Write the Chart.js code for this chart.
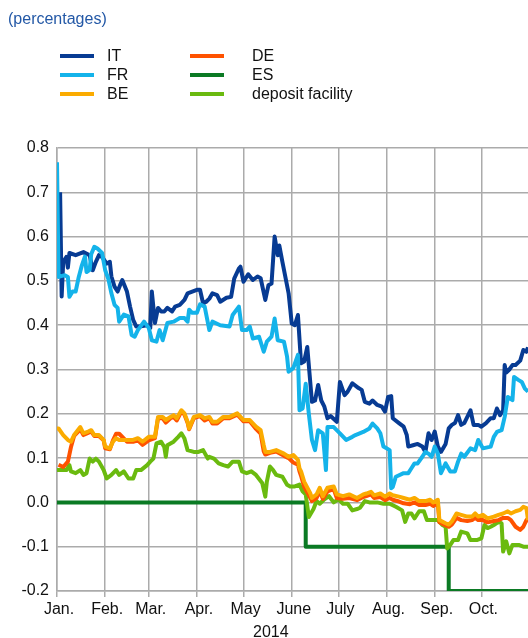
<!DOCTYPE html>
<html>
<head>
<meta charset="utf-8">
<script src="https://cdn.jsdelivr.net/npm/chart.js@4.4.1/dist/chart.umd.min.js"></script>
<style>
  body { margin: 0; background: #fff; font-family: "Liberation Sans", Arial, sans-serif; }
  #wrap { position: relative; width: 528px; height: 638px; overflow: hidden; }
  #chart { position: absolute; left: 0; top: 0; }
  #title { position: absolute; left: 8px; top: 10px; font-size: 16px; line-height: 18px; color: #2358a6; }
  .key { position: absolute; font-size: 16px; line-height: 19px; color: #111; white-space: nowrap; }
  .key .sw { position: absolute; left: 0; top: 8px; width: 34px; height: 4px; }
  .key .lb { position: absolute; top: 0; }
  #year { position: absolute; left: 253px; top: 623px; font-size: 16px; line-height: 18px; color: #111; }
</style>
</head>
<body>
<div id="wrap">
  <canvas id="chart" width="528" height="638"></canvas>
  <div id="title">(percentages)</div>
  <div id="legend"></div>
  <div id="year">2014</div>
</div>
<script>
// x values are days since 1 Jan 2014
const monthStarts = [0, 31, 59, 90, 120, 151, 181, 212, 243, 273];
const monthLabels = ['Jan.', 'Feb.', 'Mar.', 'Apr.', 'May', 'June', 'July', 'Aug.', 'Sep.', 'Oct.'];
const yearLabel = '2014';

const seriesNames = ['IT', 'FR', 'BE', 'DE', 'ES', 'deposit facility'];
const seriesColors = ['#073b93', '#14b3ea', '#fbab00', '#ff5200', '#0b7a24', '#6aba0f'];

const itDays = [2,3,4,6,7,8,12,17,21,23,25,27,29,32,34,35,37,39,41,42,45,47,49,51,53,58,60,61,63,65,67,69,71,74,76,79,82,84,87,90,92,94,96,98,100,103,105,109,112,114,117,118,120,123,126,129,131,134,136,138,140,142,143,145,149,151,153,155,157,159,161,164,166,168,170,172,174,176,180,182,185,187,190,194,196,198,201,203,206,209,211,213,215,216,220,223,225,226,229,232,235,237,239,241,243,245,247,250,252,254,256,258,260,262,266,268,271,273,276,279,281,283,285,287,288,289,291,293,295,298,300,302,303];
const itVals = [0.70,0.465,0.543,0.554,0.53,0.563,0.558,0.565,0.558,0.524,0.543,0.558,0.554,0.539,0.543,0.51,0.487,0.476,0.494,0.502,0.476,0.442,0.412,0.397,0.397,0.40,0.394,0.476,0.405,0.439,0.431,0.431,0.439,0.431,0.442,0.446,0.457,0.472,0.476,0.48,0.48,0.449,0.453,0.46,0.472,0.468,0.453,0.462,0.464,0.505,0.528,0.532,0.498,0.515,0.502,0.51,0.506,0.457,0.49,0.494,0.60,0.558,0.58,0.543,0.472,0.404,0.40,0.423,0.314,0.318,0.351,0.227,0.23,0.265,0.23,0.216,0.19,0.195,0.182,0.272,0.242,0.25,0.269,0.258,0.254,0.227,0.223,0.23,0.22,0.216,0.205,0.238,0.24,0.19,0.179,0.171,0.152,0.126,0.129,0.132,0.126,0.114,0.156,0.141,0.16,0.126,0.114,0.132,0.167,0.175,0.179,0.197,0.175,0.179,0.208,0.175,0.175,0.171,0.179,0.19,0.19,0.212,0.197,0.208,0.31,0.293,0.30,0.31,0.31,0.32,0.344,0.34,0.35];

const frDays = [0,1,5,7,8,10,12,14,16,18,19,21,22,24,26,29,31,33,35,37,39,40,43,46,48,50,52,56,59,61,64,66,68,71,75,79,82,84,85,87,90,92,95,98,100,105,111,113,117,119,122,124,126,130,133,135,138,140,142,146,148,149,152,155,156,158,160,162,164,166,168,171,173,174,178,182,186,190,192,197,201,203,206,208,210,212,214,215,216,218,223,226,228,230,232,235,237,239,241,243,245,247,250,253,256,258,260,262,266,269,271,274,279,281,283,286,288,290,293,294,297,299,301,303];
const frVals = [0.768,0.509,0.513,0.509,0.464,0.476,0.476,0.509,0.535,0.555,0.52,0.525,0.56,0.577,0.573,0.563,0.524,0.505,0.472,0.446,0.439,0.408,0.424,0.42,0.378,0.374,0.389,0.408,0.394,0.366,0.363,0.389,0.366,0.405,0.408,0.416,0.416,0.408,0.435,0.428,0.428,0.447,0.442,0.389,0.408,0.40,0.397,0.423,0.442,0.389,0.389,0.397,0.37,0.374,0.34,0.363,0.374,0.415,0.366,0.363,0.329,0.295,0.303,0.333,0.208,0.212,0.268,0.20,0.141,0.118,0.163,0.156,0.073,0.17,0.17,0.156,0.141,0.148,0.152,0.159,0.167,0.178,0.167,0.156,0.126,0.122,0.118,0.032,0.035,0.058,0.066,0.066,0.077,0.088,0.088,0.103,0.114,0.11,0.103,0.126,0.11,0.066,0.088,0.07,0.07,0.092,0.11,0.103,0.122,0.118,0.141,0.122,0.126,0.148,0.159,0.163,0.193,0.238,0.231,0.283,0.276,0.272,0.257,0.25];

const beDays = [0,1,4,7,9,11,15,17,20,22,24,27,30,31,34,36,38,40,45,49,52,55,59,63,65,68,70,73,75,77,80,82,84,85,88,92,95,98,100,103,107,111,116,120,124,128,131,133,134,137,141,146,149,152,155,156,157,159,163,164,167,169,171,174,178,180,184,188,193,197,199,202,204,208,211,214,216,220,223,227,230,233,237,240,242,245,246,250,252,254,257,260,264,267,269,271,274,277,281,284,287,290,292,295,298,300,302,303];
const beVals = [0.167,0.167,0.152,0.141,0.137,0.152,0.17,0.156,0.16,0.163,0.152,0.152,0.141,0.126,0.122,0.137,0.145,0.141,0.141,0.141,0.145,0.137,0.148,0.148,0.193,0.193,0.186,0.193,0.197,0.19,0.208,0.201,0.182,0.167,0.193,0.197,0.19,0.193,0.182,0.182,0.193,0.193,0.201,0.186,0.186,0.171,0.163,0.129,0.114,0.114,0.118,0.11,0.103,0.107,0.096,0.077,0.07,0.047,0.02,0.01,0.018,0.033,0.014,0.033,0.036,0.018,0.014,0.018,0.01,0.018,0.02,0.024,0.016,0.02,0.013,0.02,0.016,0.013,0.01,0.006,0.01,0.003,0.003,0.006,0.0,0.006,-0.04,-0.047,-0.05,-0.043,-0.025,-0.028,-0.032,-0.032,-0.025,-0.032,-0.028,-0.036,-0.032,-0.028,-0.025,-0.02,-0.025,-0.02,-0.017,-0.01,-0.013,-0.04];

const deDays = [1,4,7,9,11,15,17,20,22,24,27,30,31,34,36,38,40,45,49,52,55,59,63,65,68,70,73,75,77,80,82,84,85,88,92,95,98,100,103,107,111,116,120,124,128,131,133,134,137,141,146,149,152,155,156,157,159,163,164,167,169,171,174,178,180,184,188,193,197,199,202,204,208,211,214,216,220,223,227,230,233,237,240,242,245,246,250,252,254,257,260,264,267,269,271,274,277,281,284,287,290,292,295,298,300,302,303];
const deVals = [0.085,0.08,0.092,0.125,0.15,0.165,0.152,0.157,0.16,0.15,0.15,0.14,0.122,0.12,0.14,0.155,0.155,0.137,0.137,0.14,0.13,0.14,0.145,0.19,0.19,0.18,0.19,0.193,0.185,0.205,0.198,0.18,0.165,0.19,0.195,0.185,0.19,0.178,0.178,0.19,0.19,0.198,0.183,0.183,0.166,0.155,0.115,0.108,0.112,0.115,0.105,0.1,0.09,0.085,0.07,0.06,0.035,0.01,0.003,0.01,0.025,0.008,0.025,0.03,0.01,0.008,0.01,0.005,0.012,0.014,0.018,0.01,0.012,0.005,0.01,0.006,0.002,-0.002,-0.004,0.0,-0.006,-0.006,-0.003,-0.008,-0.002,-0.045,-0.052,-0.055,-0.05,-0.035,-0.04,-0.042,-0.04,-0.035,-0.04,-0.04,-0.045,-0.042,-0.04,-0.035,-0.035,-0.04,-0.055,-0.062,-0.055,-0.04,-0.045];

const esDays = [0, 160, 252, 303];
const esVals = [0.0, -0.1, -0.2, -0.2];

const dfDays = [0,1,6,8,9,12,15,17,19,21,23,25,27,30,32,35,38,40,43,46,49,51,54,58,60,62,64,67,69,70,71,75,78,80,82,84,88,91,94,97,98,101,104,107,110,113,117,119,122,125,128,132,134,135,137,139,141,145,148,150,153,156,158,160,162,165,167,169,172,175,178,181,184,187,190,193,195,198,201,206,210,214,218,222,224,226,228,230,233,236,238,241,245,248,250,251,253,255,258,260,264,266,270,273,275,277,279,281,284,286,287,289,291,293,297,300,303];
const dfVals = [0.073,0.073,0.073,0.084,0.07,0.066,0.073,0.062,0.066,0.099,0.092,0.099,0.092,0.073,0.054,0.062,0.073,0.062,0.07,0.054,0.054,0.073,0.073,0.084,0.092,0.099,0.133,0.137,0.125,0.103,0.129,0.137,0.148,0.156,0.144,0.118,0.114,0.114,0.118,0.099,0.103,0.099,0.088,0.084,0.081,0.092,0.092,0.07,0.066,0.07,0.062,0.044,0.013,0.047,0.081,0.073,0.062,0.058,0.04,0.036,0.036,0.04,0.025,0.018,-0.033,-0.015,0.003,-0.003,0.007,0.014,0.0,0.007,-0.003,-0.003,-0.018,-0.015,-0.012,0.003,0.0,0.0,-0.003,-0.003,-0.01,-0.018,-0.044,-0.025,-0.025,-0.036,-0.02,-0.02,-0.04,-0.04,-0.04,-0.051,-0.055,-0.104,-0.096,-0.085,-0.085,-0.066,-0.07,-0.085,-0.085,-0.081,-0.051,-0.058,-0.055,-0.051,-0.044,-0.047,-0.111,-0.088,-0.115,-0.096,-0.096,-0.1,-0.1];

const FONT = '"Liberation Sans", Arial, sans-serif';
const gridColor = '#ababab';

function pts(days, vals) {
  return days.map((d, i) => ({ x: d, y: vals[i] }));
}

// legend, two columns (IT/FR/BE, DE/ES/deposit facility)
const legendEl = document.getElementById('legend');
seriesNames.forEach((name, i) => {
  const col = Math.floor(i / 3), row = i % 3;
  const item = document.createElement('div');
  item.className = 'key';
  item.style.left = (col === 0 ? 60 : 190) + 'px';
  item.style.top = (46 + row * 19.2) + 'px';
  item.innerHTML = '<span class="sw" style="background:' + seriesColors[i] + '"></span>' +
    '<span class="lb" style="left:' + (col === 0 ? 47 : 62) + 'px">' + name + '</span>';
  legendEl.appendChild(item);
});
document.getElementById('year').textContent = yearLabel;

const seriesData = [pts(itDays, itVals), pts(frDays, frVals), pts(beDays, beVals),
                    pts(deDays, deVals), pts(esDays, esVals), pts(dfDays, dfVals)];
const drawOrder = [4, 1, 2, 3, 6, 5];

const datasets = seriesNames.map((name, i) => ({
  label: name,
  data: seriesData[i],
  borderColor: seriesColors[i],
  backgroundColor: seriesColors[i],
  borderWidth: 4,
  pointRadius: 0,
  fill: false,
  tension: 0,
  order: drawOrder[i],
  // ES holds its level until the next change date
  stepped: name === 'ES' ? 'before' : false
}));

const ctx = document.getElementById('chart').getContext('2d');
new Chart(ctx, {
  type: 'line',
  data: { datasets },
  options: {
    responsive: false,
    animation: false,
    layout: { padding: { top: 148, left: 0, right: 0, bottom: 0 } },
    plugins: { legend: { display: false }, tooltip: { enabled: false } },
    elements: { line: { borderJoinStyle: 'round', borderCapStyle: 'butt' } },
    scales: {
      x: {
        type: 'linear',
        min: 0,
        max: 303,
        afterBuildTicks: (s) => { s.ticks = monthStarts.map(v => ({ value: v })); },
        afterFit: (s) => { s.height = 47; },
        grid: { color: gridColor, lineWidth: 1.5, tickLength: 6 },
        border: { color: gridColor, width: 1.5 },
        ticks: {
          autoSkip: false,
          maxRotation: 0,
          padding: 3,
          labelOffset: 2,
          color: '#111',
          font: { family: FONT, size: 16 },
          callback: (v) => {
            const k = monthStarts.indexOf(v);
            return k >= 0 ? monthLabels[k] : '';
          }
        }
      },
      y: {
        min: -0.2,
        max: 0.8,
        afterFit: (s) => { s.width = 57; },
        grid: { color: gridColor, lineWidth: 1.5, drawTicks: false },
        border: { color: gridColor, width: 1.5 },
        ticks: {
          stepSize: 0.1,
          padding: 8,
          color: '#111',
          font: { family: FONT, size: 16 },
          callback: (v) => (Math.abs(v) < 1e-9 ? 0 : v).toFixed(1)
        }
      }
    }
  }
});
</script>
</body>
</html>
